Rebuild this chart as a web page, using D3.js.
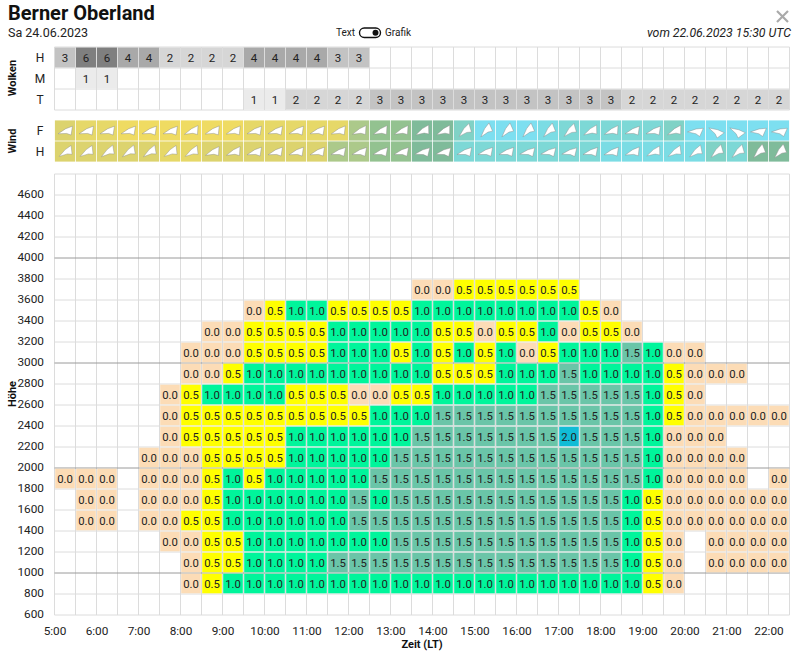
<!DOCTYPE html>
<html>
<head>
<meta charset="utf-8">
<script src="https://cdn.jsdelivr.net/npm/d3@7"></script>
<style>
  html, body { margin: 0; padding: 0; background: #fff; }
  svg { display: block; font-family: Roboto, sans-serif; }
</style>
</head>
<body>
<svg id="chart" width="800" height="654"></svg>
<script>
const _ = null;

const altitudes = [3600, 3400, 3200, 3000, 2800, 2600, 2400, 2200, 2000, 1800, 1600, 1400, 1200, 1000, 800];
const yTicks = [600, 800, 1000, 1200, 1400, 1600, 1800, 2000, 2200, 2400, 2600, 2800, 3000, 3200, 3400, 3600, 3800, 4000, 4200, 4400, 4600];
const hourTicks = [5, 6, 7, 8, 9, 10, 11, 12, 13, 14, 15, 16, 17, 18, 19, 20, 21, 22];
const slots = d3.range(5, 22.5, 0.5);

// thermik per hoehenstufe, halbstuendlich 5:00 - 22:30
const row3600 = [_,_,_,_,_,_,_,_,_,_,_,_,_,_,_,_,_,0,0,.5,.5,.5,.5,.5,.5,_,_,_,_,_,_,_,_,_,_];
const row3400 = [_,_,_,_,_,_,_,_,_,0,.5,1,1,.5,.5,.5,.5,1,1,1,1,1,1,1,1,.5,0,_,_,_,_,_,_,_,_];
const row3200 = [_,_,_,_,_,_,_,0,0,.5,.5,.5,.5,1,1,1,1,1,.5,.5,0,.5,.5,1,0,.5,.5,0,_,_,_,_,_,_,_];
const row3000 = [_,_,_,_,_,_,0,0,0,.5,.5,.5,.5,1,1,1,.5,1,.5,1,.5,1,0,.5,1,1,1,1.5,1,0,0,_,_,_,_];
const row2800 = [_,_,_,_,_,_,0,0,.5,1,1,1,1,1,1,1,1,1,.5,.5,.5,1,1,1,1.5,1,1,1,1,.5,0,0,0,_,_];
const row2600 = [_,_,_,_,_,0,.5,1,1,1,1,.5,.5,.5,0,0,.5,.5,1,1,1,1,1,1.5,1.5,1.5,1.5,1.5,1,.5,0,_,_,_,_];
const row2400 = [_,_,_,_,_,0,.5,.5,.5,.5,.5,.5,.5,.5,.5,1,1,1,1.5,1.5,1.5,1.5,1.5,1.5,1.5,1.5,1.5,1.5,1,.5,0,0,0,0,0];
const row2200 = [_,_,_,_,_,0,.5,.5,.5,.5,.5,1,1,1,1,1,1,1.5,1.5,1.5,1.5,1.5,1.5,1.5,2,1.5,1.5,1.5,1,0,0,0,_,_,_];
const row2000 = [_,_,_,_,0,0,0,.5,.5,.5,.5,1,1,1,1,1,1.5,1.5,1.5,1.5,1.5,1.5,1.5,1.5,1.5,1.5,1.5,1.5,1,0,0,0,0,_,_];
const row1800 = [0,0,0,_,0,0,0,.5,1,.5,1,1,1,1,1,1.5,1.5,1.5,1.5,1.5,1.5,1.5,1.5,1.5,1.5,1.5,1.5,1.5,1,0,0,0,0,_,0];
const row1600 = [_,0,0,_,0,0,0,.5,1,1,1,1,1,1,1.5,1,1.5,1.5,1.5,1.5,1.5,1.5,1.5,1.5,1.5,1.5,1.5,1,.5,0,0,0,0,0,0];
const row1400 = [_,0,0,_,0,0,.5,.5,1,1,1,1,1,1,1.5,1.5,1.5,1.5,1.5,1.5,1.5,1.5,1.5,1.5,1.5,1.5,1.5,1,.5,0,0,0,0,0,0];
const row1200 = [_,_,_,_,_,0,0,.5,.5,1,1,1,1,1,1,1,1.5,1.5,1.5,1.5,1.5,1.5,1.5,1.5,1.5,1.5,1.5,1,.5,0,_,0,0,0,0];
const row1000 = [_,_,_,_,_,_,0,.5,.5,1,1,1,1,1.5,1.5,1.5,1.5,1.5,1.5,1.5,1.5,1.5,1.5,1.5,1.5,1.5,1.5,1,.5,0,_,0,0,0,0];
const row800  = [_,_,_,_,_,_,0,.5,1,1,1,1,1,1,1,1,1,1,1,1,1,1,1,1,1,1,1,1,.5,0,_,_,_,_,_];
const liftRows = [row3600, row3400, row3200, row3000, row2800, row2600, row2400, row2200, row2000, row1800, row1600, row1400, row1200, row1000, row800];

// wolken in achteln
const cloudHigh = [3,6,6,4,4,2,2,2,2,4,4,4,4,3,3,_,_,_,_,_,_,_,_,_,_,_,_,_,_,_,_,_,_,_,_];
const cloudMid  = [_,1,1,_,_,_,_,_,_,_,_,_,_,_,_,_,_,_,_,_,_,_,_,_,_,_,_,_,_,_,_,_,_,_,_];
const cloudLow  = [_,_,_,_,_,_,_,_,_,1,1,2,2,2,2,3,3,3,3,3,3,3,3,3,3,3,3,2,2,2,2,2,2,2,2];

// wind: geschwindigkeit (geschaetzt) und richtung
const windSpeedF = [18,20,20,22,22,22,22,22,22,20,20,20,20,20,16,14,14,12,12,10,4,4,4,6,8,8,8,8,8,10,4,4,4,4,4];
const windSpeedH = [18,18,18,18,18,20,20,18,18,18,18,18,18,16,16,14,14,12,12,8,8,8,8,8,8,8,6,6,6,6,6,10,8,12,12];
const windDirF = [60,60,60,60,60,60,55,58,58,60,60,60,60,58,55,55,55,50,52,35,28,28,28,30,35,50,55,60,60,52,75,105,105,75,75];
const windDirH = [45,45,42,42,42,45,45,55,55,60,60,60,60,62,62,62,62,65,65,62,62,62,65,65,65,62,60,58,50,45,40,35,35,30,30];

const svg = d3.select("#chart");

const x = d3.scaleLinear().domain([5, 22.5]).range([54.5, 789.5]);
const y = d3.scaleLinear().domain([600, 4800]).range([615, 174]);
const cellW = x(5.5) - x(5);
const cellH = y(800) - y(1000);

const cloudY = d3.scaleBand().domain(["H", "M", "T"]).range([47, 110]);
const windY = d3.scaleBand().domain(["F", "H"]).range([120, 162]);

const liftColor = d3.scaleOrdinal().domain([0, 0.5, 1, 1.5, 2]).range(["#fcdcb6", "#ffff00", "#00f59b", "#6ac5a8", "#11bcd6"]);
const cloudColor = d3.scaleOrdinal().domain([1, 2, 3, 4, 6]).range(["#ebebeb", "#d6d6d6", "#c3c3c3", "#a9a9a9", "#7f7f7f"]);
const windColor = d3.scaleThreshold()
  .domain([5, 7, 9, 11, 13, 15, 17, 19, 21])
  .range(["#7ddff0", "#7bdce4", "#7dd8d6", "#80d2c6", "#7fbb9a", "#93c290", "#acc98a", "#dcd36e", "#e6d868", "#efdb62"]);

const gridColor = "#dcdcdc";

// kopfzeile
svg.append("text").attr("x", 8).attr("y", 20).attr("font-size", 20).attr("font-weight", 700).attr("fill", "#111").text("Berner Oberland");
svg.append("text").attr("x", 8).attr("y", 36.5).attr("font-size", 12.5).attr("fill", "#222").text("Sa 24.06.2023");
svg.append("text").attr("x", 355).attr("y", 36).attr("text-anchor", "end").attr("font-size", 10).attr("fill", "#222").text("Text");
svg.append("text").attr("x", 385).attr("y", 36).attr("font-size", 10).attr("fill", "#222").text("Grafik");
svg.append("rect").attr("x", 359.5).attr("y", 28).attr("width", 21).attr("height", 9.5).attr("rx", 4.75)
  .attr("fill", "#fff").attr("stroke", "#111").attr("stroke-width", 1.4);
svg.append("circle").attr("cx", 375.5).attr("cy", 32.7).attr("r", 3).attr("fill", "#111");
svg.append("text").attr("x", 791).attr("y", 36.5).attr("text-anchor", "end").attr("font-size", 12.3)
  .attr("font-style", "italic").attr("fill", "#222").text("vom 22.06.2023 15:30 UTC");
svg.append("path").attr("d", "M777,11 L788,22 M788,11 L777,22").attr("stroke", "#aaa").attr("stroke-width", 2.2).attr("fill", "none");

function rotatedLabel(cy, label) {
  svg.append("text")
    .attr("transform", `translate(16,${cy}) rotate(-90)`)
    .attr("text-anchor", "middle")
    .attr("font-size", 11)
    .attr("font-weight", 700)
    .attr("fill", "#111")
    .text(label);
}
rotatedLabel(78, "Wolken");
rotatedLabel(141, "Wind");
rotatedLabel(394, "Höhe");

// wolken
const cloudSeries = [["H", cloudHigh], ["M", cloudMid], ["T", cloudLow]];
const cloudG = svg.append("g");
cloudG.append("g").selectAll("line").data(d3.range(0, 36)).join("line")
  .attr("x1", d => x(5 + d / 2)).attr("x2", d => x(5 + d / 2))
  .attr("y1", 47).attr("y2", 110)
  .attr("stroke", gridColor);
cloudG.append("g").selectAll("line").data(d3.range(0, 4)).join("line")
  .attr("x1", x(5)).attr("x2", x(22.5))
  .attr("y1", d => 47 + d * cloudY.bandwidth()).attr("y2", d => 47 + d * cloudY.bandwidth())
  .attr("stroke", gridColor);

cloudSeries.forEach(([name, values]) => {
  const cells = values.map((v, i) => ({ v, t: slots[i] })).filter(d => d.v !== null);
  const g = cloudG.append("g");
  g.selectAll("rect").data(cells).join("rect")
    .attr("x", d => x(d.t) + 0.5)
    .attr("y", cloudY(name) + 0.5)
    .attr("width", cellW - 1)
    .attr("height", cloudY.bandwidth() - 1)
    .attr("fill", d => cloudColor(d.v));
  g.selectAll("text").data(cells).join("text")
    .attr("x", d => x(d.t) + cellW / 2)
    .attr("y", cloudY(name) + cloudY.bandwidth() / 2 + 4)
    .attr("text-anchor", "middle")
    .attr("font-size", 11.5)
    .attr("fill", "#222")
    .text(d => d.v);
  svg.append("text").attr("x", 40).attr("y", cloudY(name) + cloudY.bandwidth() / 2 + 4)
    .attr("text-anchor", "middle").attr("font-size", 12).attr("fill", "#222").text(name);
});

// wind
const arrow = "M0,-8.6 L7,-3 L3.4,0 L-0.6,7.6 L-1.2,-1.5 Z";
const windSeries = [["F", windSpeedF, windDirF], ["H", windSpeedH, windDirH]];
windSeries.forEach(([name, speeds, dirs]) => {
  const cells = speeds.map((s, i) => ({ s, dir: dirs[i], t: slots[i] }));
  const g = svg.append("g");
  g.selectAll("rect").data(cells).join("rect")
    .attr("x", d => x(d.t) + 0.4)
    .attr("y", windY(name) + 0.4)
    .attr("width", cellW - 0.8)
    .attr("height", windY.bandwidth() - 0.8)
    .attr("fill", d => windColor(d.s));
  g.selectAll("path").data(cells).join("path")
    .attr("d", arrow)
    .attr("transform", d => `translate(${x(d.t) + cellW / 2},${windY(name) + windY.bandwidth() / 2}) rotate(${d.dir})`)
    .attr("fill", "#fff")
    .attr("stroke", "#8a8a8a")
    .attr("stroke-width", 0.4);
  svg.append("text").attr("x", 40).attr("y", windY(name) + windY.bandwidth() / 2 + 4)
    .attr("text-anchor", "middle").attr("font-size", 12).attr("fill", "#222").text(name);
});

// hauptdiagramm: gitter
const plot = svg.append("g");
plot.append("g").selectAll("line").data(d3.range(0, 36)).join("line")
  .attr("x1", d => x(5 + d / 2)).attr("x2", d => x(5 + d / 2))
  .attr("y1", y(4800)).attr("y2", y(600))
  .attr("stroke", gridColor);
plot.append("g").selectAll("line").data(d3.range(600, 4801, 200)).join("line")
  .attr("x1", x(5)).attr("x2", x(22.5))
  .attr("y1", d => y(d)).attr("y2", d => y(d))
  .attr("stroke", d => d % 1000 === 0 ? "#9a9a9a" : gridColor);

// thermik-zellen
const cells = [];
liftRows.forEach((row, r) => row.forEach((v, i) => {
  if (v !== null) cells.push({ v, t: slots[i], alt: altitudes[r] });
}));
plot.append("g").selectAll("rect").data(cells).join("rect")
  .attr("x", d => x(d.t) + 0.7)
  .attr("y", d => y(d.alt + 200) + 0.7)
  .attr("width", cellW - 1.4)
  .attr("height", cellH - 1.4)
  .attr("fill", d => liftColor(d.v));
plot.append("g").selectAll("text").data(cells).join("text")
  .attr("x", d => x(d.t) + cellW / 2)
  .attr("y", d => y(d.alt + 100) + 4)
  .attr("text-anchor", "middle")
  .attr("font-size", 11.3)
  .attr("fill", "#222")
  .text(d => d.v.toFixed(1));

// achsen
const yAxis = d3.axisLeft(y).tickValues(yTicks).tickSize(0).tickPadding(10.5).tickFormat(d3.format("d"));
const yAxisG = svg.append("g").attr("transform", `translate(${x(5)},-1)`).call(yAxis);
const xAxis = d3.axisBottom(x).tickValues(hourTicks).tickSize(0).tickPadding(12).tickFormat(d => `${d}:00`);
const xAxisG = svg.append("g").attr("transform", `translate(0,${y(600)})`).call(xAxis);
[yAxisG, xAxisG].forEach(g => {
  g.select(".domain").remove();
  g.selectAll("text").attr("font-family", "Roboto, sans-serif").attr("font-size", 11.8).attr("fill", "#222");
});

svg.append("text").attr("x", 422).attr("y", 648).attr("text-anchor", "middle")
  .attr("font-size", 11).attr("font-weight", 700).attr("fill", "#111").text("Zeit (LT)");
</script>
</body>
</html>
